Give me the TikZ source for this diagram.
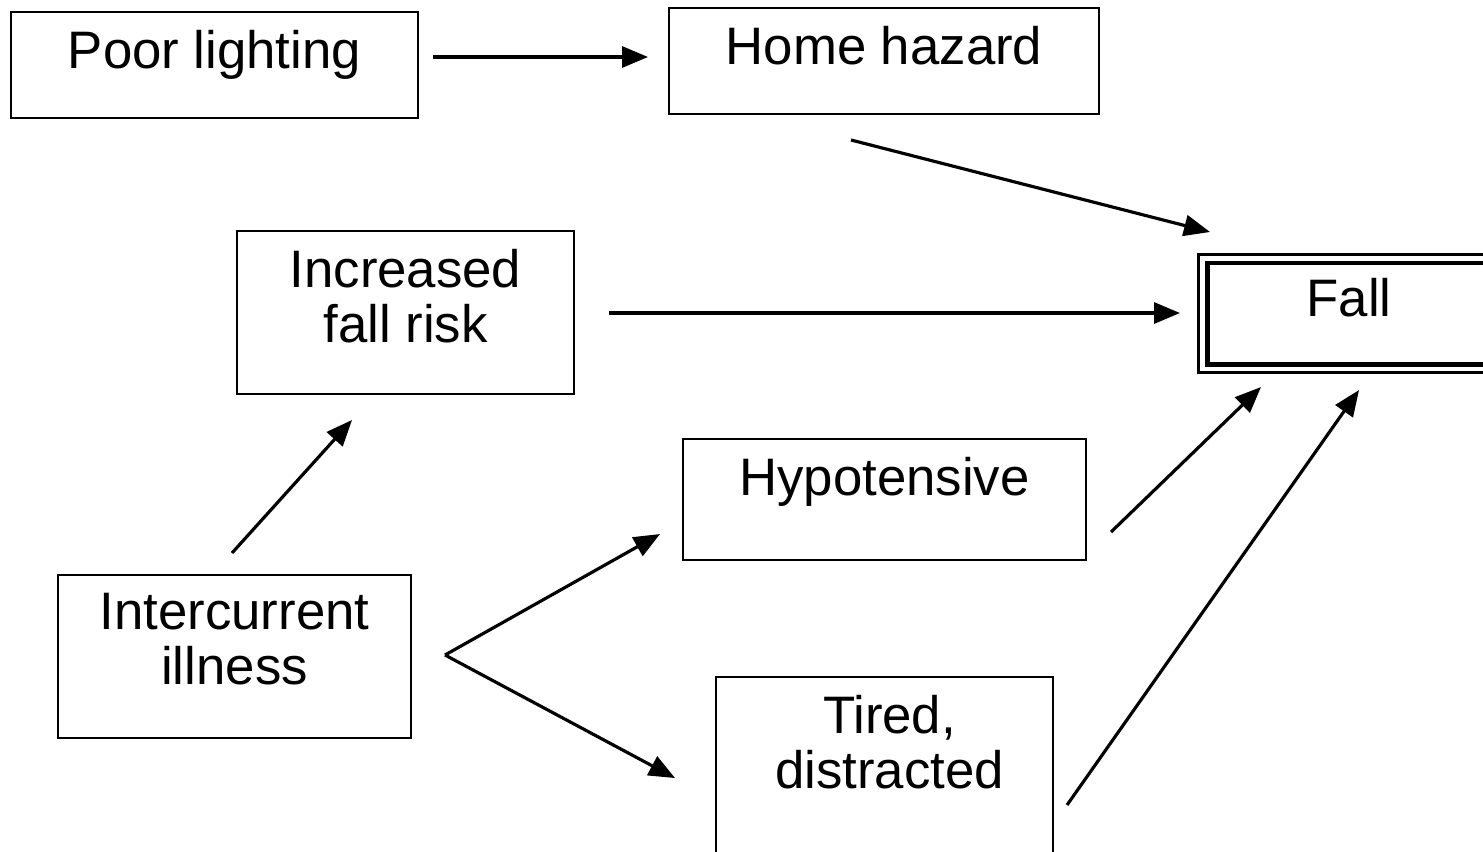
\documentclass[tikz,border=0pt]{standalone}
\usepackage{fontspec}
\setmainfont{Liberation Sans}
\usetikzlibrary{arrows.meta, positioning}

\tikzset{
  box/.style={draw, line width=0.6pt, inner sep=0pt},
  txt/.style={anchor=north, inner sep=0pt, yshift=-0.19cm, align=center,
    font=\fontsize{15}{15.6}\selectfont},
  arr/.style={-{Triangle[length=0.26cm, width=0.21cm]}, line width=0.9pt},
}

\begin{document}
\begin{tikzpicture}[x=0.01cm, y=-0.01cm]
\useasboundingbox (0,0) rectangle (1483,851);
% boxes
\node[box, minimum width=4.07cm, minimum height=1.06cm, label={[txt]north:Poor lighting}] (poor) at (214.5,65) {};
\node[box, minimum width=4.30cm, minimum height=1.06cm, label={[txt]north:Home hazard}] (home) at (884,61) {};
\node[box, minimum width=3.37cm, minimum height=1.63cm, label={[txt]north:{Increased\\fall risk}}] (risk) at (405.5,312.5) {};
\node[box, minimum width=4.03cm, minimum height=1.21cm, label={[txt]north:Hypotensive}] (hypo) at (884.5,499.5) {};
\node[box, minimum width=3.53cm, minimum height=1.63cm, label={[txt]north:{Intercurrent\\illness}}] (ill) at (234.5,656.5) {};
\node[box, minimum width=3.37cm, minimum height=2.03cm, label={[txt, xshift=0.05cm]north:{Tired,\\distracted}}] (tired) at (884.5,778.5) {};
\node[box, line width=1.4pt, minimum width=2.82cm, minimum height=1.01cm, label={[txt, yshift=0.02cm]north:Fall}] (fall) at (1349,313.5) {};
\draw[line width=0.6pt] ([shift={(-7,-6)}]fall.north west) rectangle ([shift={(7,6)}]fall.south east);

% arrow ends
\coordinate (poor-out) at (433,57);
\coordinate (home-in) at (648,57);
\coordinate (home-out) at (851,140);
\coordinate (fall-in1) at (1210,232);
\coordinate (risk-out) at (609,313);
\coordinate (fall-in2) at (1180,313);
\coordinate (ill-up) at (232,553);
\coordinate (risk-in) at (352,420);
\coordinate (ill-out) at (445,655);
\coordinate (hypo-in) at (660,534);
\coordinate (tired-in) at (675,778);
\coordinate (hypo-out) at (1111,532);
\coordinate (fall-in3) at (1261,387);
\coordinate (tired-out) at (1067,805);
\coordinate (fall-in4) at (1359,390);

% arrows
\draw[arr] (poor-out) -- (home-in);
\draw[arr] (home-out) -- (fall-in1);
\draw[arr] (risk-out) -- (fall-in2);
\draw[arr] (ill-up) -- (risk-in);
\draw[arr] (ill-out) -- (hypo-in);
\draw[arr] (ill-out) -- (tired-in);
\draw[arr] (hypo-out) -- (fall-in3);
\draw[arr] (tired-out) -- (fall-in4);
\end{tikzpicture}
\end{document}
